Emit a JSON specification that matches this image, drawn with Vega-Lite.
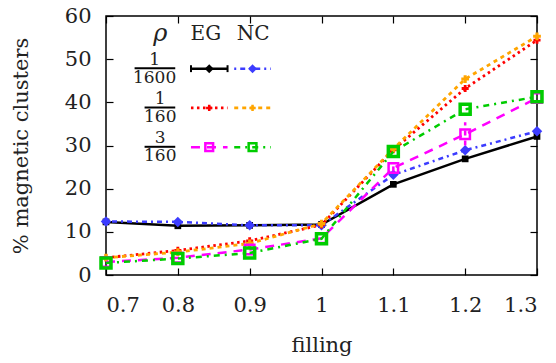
{
  "$schema": "https://vega.github.io/schema/vega-lite/v6.json",
  "width": 431,
  "height": 259,
  "autosize": {"type": "none"},
  "padding": {"left": 106, "top": 16, "right": 19, "bottom": 88},
  "background": "white",
  "config": {
    "view": {"stroke": "black", "strokeWidth": 1.5},
    "axis": {
      "domain": false, "grid": false, "tickSize": -7, "tickColor": "black", "tickWidth": 1.2,
      "labelFont": "'DejaVu Serif', 'Liberation Serif', serif", "labelFontSize": 21, "labelColor": "#222", "labelOverlap": false,
      "titleFont": "'DejaVu Serif', 'Liberation Serif', serif", "titleFontSize": 21, "titleFontWeight": "normal", "titleColor": "#222"
    },
    "text": {"font": "'DejaVu Serif', 'Liberation Serif', serif", "color": "#222"}
  },
  "datasets": {
    "d": [
      {"s": "EG1600", "x": 0.7, "y": 12.3}, {"s": "EG1600", "x": 0.8, "y": 11.4}, {"s": "EG1600", "x": 0.9, "y": 11.5}, {"s": "EG1600", "x": 1.0, "y": 11.7}, {"s": "EG1600", "x": 1.1, "y": 21.0}, {"s": "EG1600", "x": 1.2, "y": 26.9}, {"s": "EG1600", "x": 1.3, "y": 32.1},
      {"s": "NC1600", "x": 0.7, "y": 12.4}, {"s": "NC1600", "x": 0.8, "y": 12.3}, {"s": "NC1600", "x": 0.9, "y": 11.5}, {"s": "NC1600", "x": 1.0, "y": 11.5}, {"s": "NC1600", "x": 1.1, "y": 23.2}, {"s": "NC1600", "x": 1.2, "y": 28.9}, {"s": "NC1600", "x": 1.3, "y": 33.3},
      {"s": "EG160", "x": 0.7, "y": 4.0}, {"s": "EG160", "x": 0.8, "y": 5.7}, {"s": "EG160", "x": 0.9, "y": 7.9}, {"s": "EG160", "x": 1.0, "y": 11.6}, {"s": "EG160", "x": 1.1, "y": 29.0}, {"s": "EG160", "x": 1.2, "y": 43.2}, {"s": "EG160", "x": 1.3, "y": 54.4},
      {"s": "NC160", "x": 0.7, "y": 4.0}, {"s": "NC160", "x": 0.8, "y": 5.3}, {"s": "NC160", "x": 0.9, "y": 7.3}, {"s": "NC160", "x": 1.0, "y": 11.9}, {"s": "NC160", "x": 1.1, "y": 29.2}, {"s": "NC160", "x": 1.2, "y": 45.4}, {"s": "NC160", "x": 1.3, "y": 55.3},
      {"s": "EG3160", "x": 0.7, "y": 3.0}, {"s": "EG3160", "x": 0.8, "y": 4.0}, {"s": "EG3160", "x": 0.9, "y": 5.9}, {"s": "EG3160", "x": 1.0, "y": 8.5}, {"s": "EG3160", "x": 1.1, "y": 24.8}, {"s": "EG3160", "x": 1.2, "y": 32.6}, {"s": "EG3160", "x": 1.3, "y": 41.0},
      {"s": "NC3160", "x": 0.7, "y": 2.8}, {"s": "NC3160", "x": 0.8, "y": 3.8}, {"s": "NC3160", "x": 0.9, "y": 5.1}, {"s": "NC3160", "x": 1.0, "y": 8.4}, {"s": "NC3160", "x": 1.1, "y": 28.6}, {"s": "NC3160", "x": 1.2, "y": 38.4}, {"s": "NC3160", "x": 1.3, "y": 41.3}
    ],
    "e": [
      {"s": "EG1600", "x": 1.2, "lo": 26.3, "hi": 27.6},
      {"s": "EG1600", "x": 1.3, "lo": 31.4, "hi": 32.8},
      {"s": "EG3160", "x": 1.1, "lo": 24.0, "hi": 25.8},
      {"s": "EG3160", "x": 1.2, "lo": 30.0, "hi": 35.4}
    ],
    "one": [{}]
  },
  "resolve": {"axis": {"x": "independent", "y": "independent"}},
  "layer": [
    {
      "layer": [
        {
          "data": {"name": "d"},
          "transform": [{"filter": "datum.s === 'EG1600'"}],
          "mark": {"type": "line", "color": "black", "strokeWidth": 2.5},
          "encoding": {
            "x": {"field": "x", "type": "quantitative", "title": "filling",
                  "scale": {"domain": [0.7, 1.3], "nice": false, "zero": false},
                  "axis": {"values": [0.7, 0.8, 0.9, 1.0, 1.1, 1.2, 1.3], "format": "~g", "labelPadding": 26, "titlePadding": 19}},
            "y": {"field": "y", "type": "quantitative", "title": "% magnetic clusters",
                  "scale": {"domain": [0, 60], "nice": false},
                  "axis": {"values": [0, 10, 20, 30, 40, 50, 60], "labelPadding": 22, "titlePadding": 33}}
          }
        },
        {
          "data": {"name": "e"},
          "transform": [{"filter": "datum.s === 'EG1600'"}],
          "mark": {"type": "rule", "color": "black", "strokeWidth": 2},
          "encoding": {"x": {"field": "x", "type": "quantitative", "title": "filling"}, "y": {"field": "lo", "type": "quantitative", "title": "% magnetic clusters"}, "y2": {"field": "hi"}}
        },
        {
          "data": {"name": "d"},
          "transform": [{"filter": "datum.s === 'EG1600'"}],
          "mark": {"type": "point", "shape": "square", "filled": true, "color": "black", "size": 45, "opacity": 1},
          "encoding": {"x": {"field": "x", "type": "quantitative", "title": "filling"}, "y": {"field": "y", "type": "quantitative", "title": "% magnetic clusters"}}
        },
        {
          "data": {"name": "d"},
          "transform": [{"filter": "datum.s === 'NC1600'"}],
          "mark": {"type": "line", "color": "#3c3cff", "strokeWidth": 2.5, "strokeDash": [2, 4, 5, 4]},
          "encoding": {"x": {"field": "x", "type": "quantitative", "title": "filling"}, "y": {"field": "y", "type": "quantitative", "title": "% magnetic clusters"}}
        },
        {
          "data": {"name": "d"},
          "transform": [{"filter": "datum.s === 'NC1600'"}],
          "mark": {"type": "point", "shape": "diamond", "filled": true, "color": "#3c3cff", "size": 110, "opacity": 1},
          "encoding": {"x": {"field": "x", "type": "quantitative", "title": "filling"}, "y": {"field": "y", "type": "quantitative", "title": "% magnetic clusters"}}
        },
        {
          "data": {"name": "d"},
          "transform": [{"filter": "datum.s === 'EG160'"}],
          "mark": {"type": "line", "color": "#ff0000", "strokeWidth": 2.8, "strokeDash": [2.5, 3.5]},
          "encoding": {"x": {"field": "x", "type": "quantitative", "title": "filling"}, "y": {"field": "y", "type": "quantitative", "title": "% magnetic clusters"}}
        },
        {
          "data": {"name": "d"},
          "transform": [{"filter": "datum.s === 'EG160'"}],
          "mark": {"type": "point", "shape": "cross", "filled": true, "color": "#ff0000", "size": 50, "opacity": 1},
          "encoding": {"x": {"field": "x", "type": "quantitative", "title": "filling"}, "y": {"field": "y", "type": "quantitative", "title": "% magnetic clusters"}}
        },
        {
          "data": {"name": "d"},
          "transform": [{"filter": "datum.s === 'NC160'"}],
          "mark": {"type": "line", "color": "#ffa500", "strokeWidth": 2.8, "strokeDash": [4, 4]},
          "encoding": {"x": {"field": "x", "type": "quantitative", "title": "filling"}, "y": {"field": "y", "type": "quantitative", "title": "% magnetic clusters"}}
        },
        {
          "data": {"name": "d"},
          "transform": [{"filter": "datum.s === 'NC160'"}],
          "mark": {"type": "point", "shape": "cross", "filled": true, "color": "#ffa500", "size": 60, "opacity": 1},
          "encoding": {"x": {"field": "x", "type": "quantitative", "title": "filling"}, "y": {"field": "y", "type": "quantitative", "title": "% magnetic clusters"}}
        },
        {
          "data": {"name": "d"},
          "transform": [{"filter": "datum.s === 'EG3160'"}],
          "mark": {"type": "line", "color": "#ff00ff", "strokeWidth": 2.5, "strokeDash": [9, 7]},
          "encoding": {"x": {"field": "x", "type": "quantitative", "title": "filling"}, "y": {"field": "y", "type": "quantitative", "title": "% magnetic clusters"}}
        },
        {
          "data": {"name": "e"},
          "transform": [{"filter": "datum.s === 'EG3160'"}],
          "mark": {"type": "rule", "color": "#ff00ff", "strokeWidth": 2.5, "strokeDash": [5, 5]},
          "encoding": {"x": {"field": "x", "type": "quantitative", "title": "filling"}, "y": {"field": "lo", "type": "quantitative", "title": "% magnetic clusters"}, "y2": {"field": "hi"}}
        },
        {
          "data": {"name": "d"},
          "transform": [{"filter": "datum.s === 'EG3160'"}],
          "mark": {"type": "point", "shape": "square", "filled": false, "color": "#ff00ff", "size": 90, "strokeWidth": 2.5, "opacity": 1},
          "encoding": {"x": {"field": "x", "type": "quantitative", "title": "filling"}, "y": {"field": "y", "type": "quantitative", "title": "% magnetic clusters"}}
        },
        {
          "data": {"name": "d"},
          "transform": [{"filter": "datum.s === 'NC3160'"}],
          "mark": {"type": "line", "color": "#00cc00", "strokeWidth": 2.5, "strokeDash": [6, 5, 2, 5]},
          "encoding": {"x": {"field": "x", "type": "quantitative", "title": "filling"}, "y": {"field": "y", "type": "quantitative", "title": "% magnetic clusters"}}
        },
        {
          "data": {"name": "d"},
          "transform": [{"filter": "datum.s === 'NC3160'"}],
          "mark": {"type": "point", "shape": "square", "filled": false, "color": "#00cc00", "size": 100, "strokeWidth": 3.5, "opacity": 1},
          "encoding": {"x": {"field": "x", "type": "quantitative", "title": "filling"}, "y": {"field": "y", "type": "quantitative", "title": "% magnetic clusters"}}
        },
        {
          "data": {"name": "one"},
          "mark": {"type": "text", "text": "ρ", "fontSize": 24, "fontStyle": "italic", "baseline": "middle"},
          "encoding": {"x": {"datum": 0.7755, "type": "quantitative", "title": "filling"}, "y": {"datum": 55.9, "type": "quantitative", "title": "% magnetic clusters"}}
        },
        {
          "data": {"name": "one"},
          "mark": {"type": "text", "text": "EG", "fontSize": 20, "baseline": "middle"},
          "encoding": {"x": {"datum": 0.839, "type": "quantitative", "title": "filling"}, "y": {"datum": 55.9, "type": "quantitative", "title": "% magnetic clusters"}}
        },
        {
          "data": {"name": "one"},
          "mark": {"type": "text", "text": "NC", "fontSize": 20, "baseline": "middle"},
          "encoding": {"x": {"datum": 0.905, "type": "quantitative", "title": "filling"}, "y": {"datum": 55.9, "type": "quantitative", "title": "% magnetic clusters"}}
        },
        {
          "data": {"name": "one"},
          "mark": {"type": "text", "text": ["1", "1600"], "fontSize": 17, "lineHeight": 18, "baseline": "middle", "dy": -9},
          "encoding": {"x": {"datum": 0.7676, "type": "quantitative", "title": "filling"}, "y": {"datum": 47.8, "type": "quantitative", "title": "% magnetic clusters"}}
        },
        {
          "data": {"name": "one"},
          "mark": {"type": "text", "text": ["1", "160"], "fontSize": 17, "lineHeight": 18, "baseline": "middle", "dy": -9},
          "encoding": {"x": {"datum": 0.7755, "type": "quantitative", "title": "filling"}, "y": {"datum": 38.8, "type": "quantitative", "title": "% magnetic clusters"}}
        },
        {
          "data": {"name": "one"},
          "mark": {"type": "text", "text": ["3", "160"], "fontSize": 17, "lineHeight": 18, "baseline": "middle", "dy": -9},
          "encoding": {"x": {"datum": 0.7755, "type": "quantitative", "title": "filling"}, "y": {"datum": 29.6, "type": "quantitative", "title": "% magnetic clusters"}}
        },
        {
          "data": {"name": "one"},
          "mark": {"type": "rule", "color": "black", "strokeWidth": 2},
          "encoding": {"x": {"datum": 0.7398, "type": "quantitative", "title": "filling"}, "x2": {"datum": 0.7964}, "y": {"datum": 47.9, "type": "quantitative", "title": "% magnetic clusters"}}
        },
        {
          "data": {"name": "one"},
          "mark": {"type": "rule", "color": "black", "strokeWidth": 2},
          "encoding": {"x": {"datum": 0.7537, "type": "quantitative", "title": "filling"}, "x2": {"datum": 0.7964}, "y": {"datum": 38.8, "type": "quantitative", "title": "% magnetic clusters"}}
        },
        {
          "data": {"name": "one"},
          "mark": {"type": "rule", "color": "black", "strokeWidth": 2},
          "encoding": {"x": {"datum": 0.7537, "type": "quantitative", "title": "filling"}, "x2": {"datum": 0.7964}, "y": {"datum": 29.7, "type": "quantitative", "title": "% magnetic clusters"}}
        },
        {
          "data": {"name": "one"},
          "mark": {"type": "rule", "color": "black", "strokeWidth": 2.5},
          "encoding": {"x": {"datum": 0.8183, "type": "quantitative", "title": "filling"}, "x2": {"datum": 0.8692}, "y": {"datum": 47.8, "type": "quantitative", "title": "% magnetic clusters"}}
        },
        {
          "data": {"name": "one"},
          "mark": {"type": "rule", "color": "black", "strokeWidth": 2},
          "encoding": {"x": {"datum": 0.8183, "type": "quantitative", "title": "filling"}, "y": {"datum": 47.0, "type": "quantitative", "title": "% magnetic clusters"}, "y2": {"datum": 48.6}}
        },
        {
          "data": {"name": "one"},
          "mark": {"type": "rule", "color": "black", "strokeWidth": 2},
          "encoding": {"x": {"datum": 0.8692, "type": "quantitative", "title": "filling"}, "y": {"datum": 47.0, "type": "quantitative", "title": "% magnetic clusters"}, "y2": {"datum": 48.6}}
        },
        {
          "data": {"name": "one"},
          "mark": {"type": "point", "shape": "diamond", "filled": true, "color": "black", "size": 80, "opacity": 1},
          "encoding": {"x": {"datum": 0.8437, "type": "quantitative", "title": "filling"}, "y": {"datum": 47.8, "type": "quantitative", "title": "% magnetic clusters"}}
        },
        {
          "data": {"name": "one"},
          "mark": {"type": "rule", "color": "#3c3cff", "strokeWidth": 2.5, "strokeDash": [2, 4, 5, 4]},
          "encoding": {"x": {"datum": 0.8785, "type": "quantitative", "title": "filling"}, "x2": {"datum": 0.9295}, "y": {"datum": 47.8, "type": "quantitative", "title": "% magnetic clusters"}}
        },
        {
          "data": {"name": "one"},
          "mark": {"type": "point", "shape": "diamond", "filled": true, "color": "#3c3cff", "size": 80, "opacity": 1},
          "encoding": {"x": {"datum": 0.904, "type": "quantitative", "title": "filling"}, "y": {"datum": 47.8, "type": "quantitative", "title": "% magnetic clusters"}}
        },
        {
          "data": {"name": "one"},
          "mark": {"type": "rule", "color": "#ff0000", "strokeWidth": 2.8, "strokeDash": [2.5, 3.5]},
          "encoding": {"x": {"datum": 0.8183, "type": "quantitative", "title": "filling"}, "x2": {"datum": 0.8692}, "y": {"datum": 38.7, "type": "quantitative", "title": "% magnetic clusters"}}
        },
        {
          "data": {"name": "one"},
          "mark": {"type": "point", "shape": "cross", "filled": true, "color": "#ff0000", "size": 40, "opacity": 1},
          "encoding": {"x": {"datum": 0.8437, "type": "quantitative", "title": "filling"}, "y": {"datum": 38.7, "type": "quantitative", "title": "% magnetic clusters"}}
        },
        {
          "data": {"name": "one"},
          "mark": {"type": "rule", "color": "#ffa500", "strokeWidth": 2.8, "strokeDash": [4, 4]},
          "encoding": {"x": {"datum": 0.8785, "type": "quantitative", "title": "filling"}, "x2": {"datum": 0.9295}, "y": {"datum": 38.7, "type": "quantitative", "title": "% magnetic clusters"}}
        },
        {
          "data": {"name": "one"},
          "mark": {"type": "point", "shape": "cross", "filled": true, "color": "#ffa500", "size": 40, "opacity": 1},
          "encoding": {"x": {"datum": 0.904, "type": "quantitative", "title": "filling"}, "y": {"datum": 38.7, "type": "quantitative", "title": "% magnetic clusters"}}
        },
        {
          "data": {"name": "one"},
          "mark": {"type": "rule", "color": "#ff00ff", "strokeWidth": 2.5, "strokeDash": [9, 7]},
          "encoding": {"x": {"datum": 0.8183, "type": "quantitative", "title": "filling"}, "x2": {"datum": 0.8692}, "y": {"datum": 29.6, "type": "quantitative", "title": "% magnetic clusters"}}
        },
        {
          "data": {"name": "one"},
          "mark": {"type": "point", "shape": "square", "filled": false, "color": "#ff00ff", "size": 60, "strokeWidth": 2.5, "opacity": 1},
          "encoding": {"x": {"datum": 0.8437, "type": "quantitative", "title": "filling"}, "y": {"datum": 29.6, "type": "quantitative", "title": "% magnetic clusters"}}
        },
        {
          "data": {"name": "one"},
          "mark": {"type": "rule", "color": "#00cc00", "strokeWidth": 2.5, "strokeDash": [6, 5, 2, 5]},
          "encoding": {"x": {"datum": 0.8785, "type": "quantitative", "title": "filling"}, "x2": {"datum": 0.9295}, "y": {"datum": 29.6, "type": "quantitative", "title": "% magnetic clusters"}}
        },
        {
          "data": {"name": "one"},
          "mark": {"type": "point", "shape": "square", "filled": false, "color": "#00cc00", "size": 60, "strokeWidth": 2.5, "opacity": 1},
          "encoding": {"x": {"datum": 0.904, "type": "quantitative", "title": "filling"}, "y": {"datum": 29.6, "type": "quantitative", "title": "% magnetic clusters"}}
        }
      ]
    },
    {
      "data": {"name": "d"},
      "mark": {"type": "point", "opacity": 0},
      "encoding": {
        "x": {"field": "x", "type": "quantitative", "axis": {"orient": "top", "labels": false, "title": null, "values": [0.7, 0.8, 0.9, 1.0, 1.1, 1.2, 1.3]}},
        "y": {"field": "y", "type": "quantitative", "axis": {"orient": "right", "labels": false, "title": null, "values": [0, 10, 20, 30, 40, 50, 60]}}
      }
    }
  ]
}
